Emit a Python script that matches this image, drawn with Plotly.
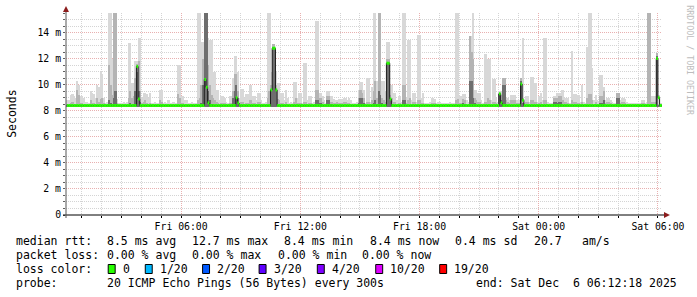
import pandas as pd
import plotly.graph_objects as go

# ---------------- data (values in milliseconds, 5-minute steps) ----------------
start_time = "2025-12-05 00:15:00"
view_start = "2025-12-05 00:12:18"
view_end = "2025-12-06 06:12:18"
smoke_floor = 8.3

median_ms = [
    8.4, 8.4, 8.4, 8.4, 8.4, 8.4, 8.4, 8.4, 8.4,
    8.4, 8.4, 8.4, 8.4, 8.4, 8.4, 8.4, 8.4, 8.4, 8.4, 8.4, 8.4,
    8.4, 8.4, 8.4, 8.4, 8.4, 8.4, 8.4, 8.4, 8.4, 8.4, 8.4, 8.4,
    8.4, 8.4, 8.4, 8.4, 8.4, 8.4, 8.4, 8.4, 8.4, 11.4, 8.9, 8.4,
    8.4, 8.4, 8.4, 8.4, 8.4, 8.4, 8.4, 8.4, 8.4, 8.4, 8.4, 8.4,
    8.4, 8.4, 8.4, 8.4, 8.4, 8.4, 8.4, 8.4, 8.4, 8.4, 8.4, 8.4,
    8.4, 8.4, 8.4, 8.4, 8.4, 8.4, 8.4, 8.4, 8.4, 8.4, 8.4, 8.4,
    8.4, 8.4, 10.4, 9.8, 8.6, 8.4, 8.4, 8.4, 8.4, 8.4, 8.4, 8.4,
    8.4, 8.4, 8.4, 8.4, 8.4, 8.4, 8.4, 8.4, 8.4, 9.0, 8.6, 8.4,
    8.4, 8.4, 8.4, 8.4, 8.4, 8.4, 8.4, 8.4, 8.4, 8.4, 8.4, 8.4,
    8.4, 8.4, 8.4, 8.4, 8.4, 8.4, 9.6, 12.8, 12.8, 9.6, 8.4, 8.4,
    8.4, 8.4, 8.4, 8.4, 8.4, 8.4, 8.4, 8.4, 8.4, 8.4, 8.4, 8.4,
    8.4, 8.4, 8.4, 8.4, 8.4, 8.4, 8.4, 8.4, 8.4, 8.4, 8.4, 8.4,
    8.4, 8.4, 8.4, 8.4, 8.4, 8.4, 8.4, 8.4, 8.4, 8.4, 8.4, 8.4,
    8.4, 8.4, 8.4, 8.4, 8.4, 8.4, 8.4, 8.4, 8.4, 8.4, 8.4, 8.4,
    8.4, 8.4, 8.4, 8.4, 8.4, 8.4, 8.4, 8.4, 8.4, 8.4, 8.4, 8.4,
    8.4, 8.4, 8.4, 8.4, 11.65, 11.65, 8.9, 8.4, 8.4, 8.4, 8.4, 8.4,
    8.4, 8.4, 8.4, 8.4, 8.4, 8.4, 8.4, 8.4, 8.4, 8.4, 8.4, 8.4,
    8.4, 8.4, 8.4, 8.4, 8.4, 8.4, 8.4, 8.4, 8.4, 8.4, 8.4, 8.4,
    8.4, 8.4, 8.4, 8.4, 8.4, 8.4, 8.4, 8.4, 8.4, 8.4, 8.4, 8.4,
    8.4, 8.4, 8.4, 8.4, 8.4, 8.4, 8.4, 8.4, 8.4, 8.4, 8.4, 8.4,
    8.4, 8.4, 8.4, 8.4, 8.4, 8.4, 8.4, 8.4, 8.4, 8.4, 8.4, 8.4,
    9.3, 8.6, 8.4, 8.4, 8.4, 8.4, 8.4, 8.4, 8.4, 8.4, 8.4, 8.4,
    8.4, 10.05, 8.8, 8.4, 8.4, 8.4, 8.4, 8.4, 8.4, 8.4, 8.4, 8.4,
    8.4, 8.4, 8.4, 8.4, 8.4, 8.4, 8.4, 8.4, 8.4, 8.4, 8.4, 8.4,
    8.4, 8.4, 8.4, 8.4, 8.4, 8.4, 8.4, 8.4, 8.4, 8.4, 8.4, 8.4,
    8.4, 8.4, 8.4, 8.4, 8.4, 8.4, 8.4, 8.4, 8.4, 8.4, 8.4, 8.4,
    8.4, 8.4, 8.4, 8.4, 8.4, 8.4, 8.4, 8.4, 8.4, 8.4, 8.4, 8.4,
    8.4, 8.4, 8.4, 8.4, 8.4, 8.4, 8.4, 8.4, 8.4, 8.4, 8.4, 8.4,
    8.4, 8.4, 8.4, 8.4, 8.4, 8.4, 8.4, 8.4, 8.4, 8.4, 8.4, 12.0,
    9.0, 8.4, 8.4,
]

smoke_max_ms = [
    8.8, 8.8, 9.2, 9.3, 9.1, 9.0, 10.3, 10.0, 9.1,
    9.1, 9.0, 8.7, 8.7, 8.6, 9.5, 9.4, 9.3, 9.0, 10.0, 9.8, 11.0,
    10.8, 9.0, 8.6, 8.7, 15.5, 15.5, 12.0, 15.5, 15.5, 8.9, 8.6, 8.6,
    8.6, 8.7, 8.6, 8.7, 13.2, 13.2, 10.1, 10.1, 11.8, 11.8, 13.6, 13.6,
    9.0, 9.35, 9.35, 9.3, 9.0, 9.35, 8.6, 8.6, 8.7, 8.6, 8.6, 9.6,
    9.6, 8.6, 8.7, 8.6, 8.8, 8.6, 8.6, 8.7, 8.6, 8.6, 11.5, 11.5,
    9.1, 9.1, 8.8, 8.8, 8.6, 8.6, 8.7, 8.6, 8.6, 8.6, 15.5, 15.5,
    13.3, 13.3, 15.5, 15.5, 13.6, 13.4, 13.4, 11.0, 11.0, 9.6, 9.6, 8.8,
    9.1, 9.1, 9.0, 8.7, 8.6, 9.1, 9.1, 10.5, 12.2, 12.2, 11.0, 9.0,
    9.7, 9.7, 9.0, 9.3, 9.3, 10.0, 10.0, 9.1, 9.1, 8.8, 9.35, 9.35,
    8.8, 8.6, 8.6, 8.7, 15.5, 15.5, 11.0, 13.1, 13.1, 11.0, 10.1, 10.1,
    9.35, 9.35, 8.8, 9.6, 9.0, 8.6, 8.7, 8.6, 10.2, 10.2, 9.0, 9.35,
    9.35, 8.6, 11.7, 11.7, 8.8, 9.1, 9.1, 8.6, 8.7, 14.85, 14.85, 9.35,
    9.35, 9.1, 8.8, 8.6, 9.5, 9.5, 9.1, 9.1, 8.9, 8.8, 8.8, 8.9,
    8.8, 8.9, 9.0, 9.0, 8.8, 9.0, 8.8, 8.6, 8.6, 8.6, 8.7, 9.6,
    10.2, 10.2, 9.6, 8.6, 10.5, 10.5, 8.7, 9.8, 15.5, 15.5, 10.3, 15.5,
    15.5, 10.3, 10.3, 9.5, 13.3, 13.3, 10.0, 10.0, 9.35, 9.35, 8.8, 9.1,
    9.1, 8.7, 15.5, 15.5, 9.0, 13.4, 13.4, 8.8, 9.35, 9.35, 8.7, 13.8,
    13.8, 9.0, 9.35, 8.6, 8.6, 8.6, 8.7, 9.0, 9.0, 8.9, 8.6, 8.7,
    8.7, 8.6, 8.6, 8.6, 8.6, 8.6, 8.7, 8.6, 8.6, 8.6, 15.5, 15.5,
    9.1, 9.1, 9.3, 9.3, 8.8, 8.7, 13.7, 13.7, 15.5, 9.6, 9.6, 9.35,
    9.35, 8.8, 8.6, 12.35, 12.35, 12.0, 12.0, 8.8, 10.4, 10.4, 9.0, 8.7,
    9.5, 9.5, 10.5, 10.5, 9.0, 9.0, 8.8, 9.2, 9.2, 9.2, 8.8, 8.8,
    8.8, 10.5, 13.6, 8.9, 9.1, 9.1, 8.7, 10.6, 10.6, 10.1, 10.1, 8.7,
    9.1, 9.35, 8.8, 13.6, 13.6, 8.7, 8.6, 8.6, 8.6, 9.1, 9.1, 9.35,
    9.35, 9.35, 9.6, 9.0, 9.0, 9.0, 8.6, 8.6, 12.6, 9.3, 9.3, 9.2,
    9.2, 8.7, 10.0, 8.7, 8.6, 12.9, 15.5, 15.5, 11.3, 8.8, 9.2, 8.8,
    8.7, 10.75, 10.75, 9.8, 8.8, 9.0, 9.0, 8.8, 8.7, 8.6, 8.6, 9.35,
    9.35, 8.8, 9.0, 9.0, 8.9, 8.7, 8.6, 8.6, 8.6, 8.6, 8.6, 8.6,
    8.6, 8.6, 8.8, 8.8, 8.6, 8.7, 15.5, 15.5, 9.1, 9.1, 9.1, 12.4,
    9.2, 8.6, 8.6,
]

smoke_mid_ms = [
    8.5, 8.5, 8.6, 8.7, 8.5, 8.5, 9.6, 9.2, 8.6,
    8.6, 8.5, 8.5, 8.5, 8.5, 8.8, 8.6, 8.6, 8.5, 9.0, 8.7, 8.9,
    9.0, 8.6, 8.5, 8.5, 11.5, 10.0, 9.2, 15.5, 15.5, 8.6, 8.5, 8.5,
    8.5, 8.5, 8.5, 8.5, 9.0, 9.5, 9.0, 9.1, 10.5, 11.6, 11.8, 9.5,
    8.6, 8.7, 8.8, 8.6, 8.5, 8.6, 8.5, 8.5, 8.5, 8.5, 8.5, 8.8,
    8.7, 8.5, 8.5, 8.5, 8.5, 8.5, 8.5, 8.5, 8.5, 8.5, 9.3, 9.0,
    8.6, 8.6, 8.5, 8.5, 8.5, 8.5, 8.5, 8.5, 8.5, 8.5, 8.8, 9.0,
    10.0, 12.0, 15.5, 15.5, 11.5, 10.0, 9.2, 9.0, 8.8, 8.7, 8.6, 8.5,
    8.6, 8.6, 8.6, 8.5, 8.5, 8.6, 8.6, 9.5, 10.8, 10.8, 9.5, 8.6,
    8.7, 8.7, 8.5, 8.6, 8.6, 8.8, 8.8, 8.6, 8.6, 8.5, 8.7, 8.7,
    8.5, 8.5, 8.5, 8.5, 9.0, 9.5, 10.0, 13.1, 13.1, 10.0, 8.9, 8.8,
    8.6, 8.6, 8.5, 8.7, 8.5, 8.5, 8.5, 8.5, 8.7, 9.0, 8.6, 8.6,
    8.6, 8.5, 8.7, 8.7, 8.5, 8.6, 8.6, 8.5, 8.5, 9.6, 9.6, 9.0,
    9.0, 8.7, 8.5, 8.5, 9.1, 9.1, 8.7, 8.7, 8.6, 8.6, 8.7, 8.6,
    8.6, 8.6, 8.7, 8.7, 8.6, 8.6, 8.5, 8.5, 8.5, 8.5, 8.5, 9.0,
    9.6, 9.35, 9.0, 8.5, 8.7, 8.7, 8.5, 8.8, 9.5, 10.3, 9.0, 15.5,
    15.5, 9.0, 8.8, 8.7, 12.0, 12.0, 9.2, 9.0, 8.7, 8.7, 8.5, 8.6,
    8.6, 8.5, 10.0, 10.0, 8.6, 8.8, 9.0, 8.5, 8.7, 8.7, 8.5, 8.8,
    8.8, 8.6, 8.6, 8.5, 8.5, 8.5, 8.5, 8.6, 8.6, 8.6, 8.5, 8.5,
    8.5, 8.5, 8.5, 8.5, 8.5, 8.5, 8.5, 8.5, 8.5, 8.5, 8.8, 8.9,
    8.6, 8.6, 8.9, 8.8, 8.5, 8.5, 13.7, 12.5, 12.0, 9.0, 8.8, 8.7,
    8.7, 8.5, 8.5, 8.7, 8.7, 9.0, 8.8, 8.5, 8.7, 8.7, 8.6, 8.5,
    9.4, 9.2, 10.5, 10.5, 8.8, 8.7, 8.6, 8.8, 8.8, 8.8, 8.6, 8.6,
    8.6, 10.5, 9.0, 8.6, 8.7, 8.7, 8.5, 8.8, 8.8, 8.7, 8.7, 8.5,
    8.6, 8.7, 8.5, 8.8, 8.8, 8.5, 8.5, 8.5, 8.5, 9.0, 9.0, 9.0,
    9.1, 9.1, 8.8, 8.7, 8.7, 8.6, 8.5, 8.5, 8.8, 8.7, 8.7, 8.6,
    8.6, 8.5, 8.7, 8.5, 8.5, 9.0, 9.3, 9.3, 8.8, 8.5, 8.7, 8.5,
    8.5, 9.1, 9.1, 9.5, 8.6, 8.7, 8.7, 8.6, 8.5, 8.5, 8.5, 9.35,
    9.35, 8.6, 8.7, 8.7, 8.6, 8.5, 8.5, 8.5, 8.5, 8.5, 8.5, 8.5,
    8.5, 8.5, 8.6, 8.6, 8.5, 8.5, 15.5, 15.5, 8.7, 8.7, 8.7, 12.4,
    8.5, 8.5, 8.5,
]

smoke_core_ms = [
    8.4, 8.4, 8.4, 8.4, 8.4, 8.4, 8.4, 8.4, 8.4,
    8.4, 8.4, 8.4, 8.4, 8.4, 8.4, 8.4, 8.4, 8.4, 8.4, 8.4, 8.4,
    8.4, 8.4, 8.4, 8.4, 8.8, 8.6, 8.4, 9.0, 9.5, 8.4, 8.4, 8.4,
    8.4, 8.4, 8.4, 8.4, 8.4, 8.6, 8.4, 8.5, 9.5, 11.0, 9.5, 8.7,
    8.4, 8.4, 8.4, 8.4, 8.4, 8.4, 8.4, 8.4, 8.4, 8.4, 8.4, 8.4,
    8.4, 8.4, 8.4, 8.4, 8.4, 8.4, 8.4, 8.4, 8.4, 8.4, 8.4, 8.4,
    8.4, 8.4, 8.4, 8.4, 8.4, 8.4, 8.4, 8.4, 8.4, 8.4, 8.4, 8.4,
    8.6, 10.0, 15.5, 15.5, 9.5, 8.8, 8.5, 8.4, 8.4, 8.4, 8.4, 8.4,
    8.4, 8.4, 8.4, 8.4, 8.4, 8.4, 8.4, 9.0, 9.5, 10.0, 9.0, 8.4,
    8.4, 8.4, 8.4, 8.4, 8.4, 8.4, 8.4, 8.4, 8.4, 8.4, 8.4, 8.4,
    8.4, 8.4, 8.4, 8.4, 8.4, 8.4, 9.6, 12.9, 12.9, 9.6, 8.4, 8.4,
    8.4, 8.4, 8.4, 8.4, 8.4, 8.4, 8.4, 8.4, 8.4, 8.4, 8.4, 8.4,
    8.4, 8.4, 8.4, 8.4, 8.4, 8.4, 8.4, 8.4, 8.4, 8.8, 8.8, 8.6,
    8.6, 8.4, 8.4, 8.4, 8.8, 8.8, 8.5, 8.4, 8.4, 8.4, 8.4, 8.4,
    8.4, 8.4, 8.4, 8.4, 8.4, 8.4, 8.4, 8.4, 8.4, 8.4, 8.4, 8.6,
    9.0, 9.0, 8.6, 8.4, 8.4, 8.4, 8.4, 8.4, 8.6, 8.8, 8.5, 9.5,
    9.2, 8.6, 8.4, 8.4, 11.7, 11.7, 8.8, 8.5, 8.4, 8.4, 8.4, 8.4,
    8.4, 8.4, 8.8, 8.8, 8.4, 8.4, 8.4, 8.4, 8.4, 8.4, 8.4, 8.4,
    8.4, 8.4, 8.4, 8.4, 8.4, 8.4, 8.4, 8.4, 8.4, 8.4, 8.4, 8.4,
    8.4, 8.4, 8.4, 8.4, 8.4, 8.4, 8.4, 8.4, 8.4, 8.4, 8.4, 8.4,
    8.4, 8.4, 8.6, 8.5, 8.4, 8.4, 10.3, 10.3, 9.0, 8.6, 8.4, 8.4,
    8.4, 8.4, 8.4, 8.4, 8.4, 8.4, 8.4, 8.4, 8.4, 8.4, 8.4, 8.4,
    9.3, 8.8, 10.0, 10.0, 8.5, 8.4, 8.4, 8.4, 8.4, 8.4, 8.4, 8.4,
    8.4, 10.3, 8.6, 8.4, 8.4, 8.4, 8.4, 8.4, 8.4, 8.4, 8.4, 8.4,
    8.4, 8.4, 8.4, 8.4, 8.4, 8.4, 8.4, 8.4, 8.4, 8.7, 8.7, 8.6,
    8.7, 8.7, 8.4, 8.4, 8.4, 8.4, 8.4, 8.4, 8.4, 8.4, 8.4, 8.4,
    8.4, 8.4, 8.4, 8.4, 8.4, 8.4, 8.4, 8.4, 8.4, 8.4, 8.4, 8.4,
    8.4, 8.6, 8.6, 8.8, 8.4, 8.4, 8.4, 8.4, 8.4, 8.4, 8.4, 9.0,
    9.0, 8.4, 8.4, 8.4, 8.4, 8.4, 8.4, 8.4, 8.4, 8.4, 8.4, 8.4,
    8.4, 8.4, 8.4, 8.4, 8.4, 8.4, 8.4, 8.4, 8.5, 8.4, 8.4, 12.2,
    8.4, 8.4, 8.4,
]

y_tick_values = [0, 2, 4, 6, 8, 10, 12, 14]
y_tick_labels = ["0", "2 m", "4 m", "6 m", "8 m", "10 m", "12 m", "14 m"]

loss_labels = ["0", "1/20", "2/20", "3/20", "4/20", "10/20", "19/20"]
loss_colors = ["#26ff00", "#00b8ff", "#0059ff", "#5e00ff", "#7e00ff", "#dd00ff", "#ff0000"]

stats_rtt = ["median rtt:", "8.5 ms avg", "12.7 ms max", "8.4 ms min", "8.4 ms now", "0.4 ms sd", "20.7", "am/s"]
stats_loss = ["packet loss:", "0.00 % avg", "0.00 % max", "0.00 % min", "0.00 % now"]
probe_text = ["probe:", "20 ICMP Echo Pings (56 Bytes) every 300s", "end: Sat Dec\u00a0\u00a06 06:12:18 2025"]

# ---------------- layout helpers (pixel -> paper) ----------------
W, H = 697, 297
L, R, T, B = 66, 31, 13, 82
PW, PH = W - L - R, H - T - B


def px(x):
    return (x - L) / PW


def py(y):
    return (H - B - y) / PH


MONO = "DejaVu Sans Mono"
step = pd.Timedelta(minutes=5)
starts = pd.date_range(start_time, periods=len(median_ms), freq="5min")
centers = starts + step / 2
bar_w = step.total_seconds() * 1000

fig = go.Figure()


def smoke(tops, color):
    fig.add_trace(go.Bar(
        x=centers, y=[t - smoke_floor for t in tops], base=smoke_floor,
        width=bar_w, marker=dict(color=color, line=dict(width=0)),
        hoverinfo="skip", showlegend=False))


smoke(smoke_max_ms, "#d8d8d8")
smoke(smoke_mid_ms, "#b4b4b4")
smoke(smoke_core_ms, "#6e6e6e")

# median black connecting line
fig.add_trace(go.Scatter(
    x=list(starts) + [starts[-1] + step], y=median_ms + [median_ms[-1]],
    mode="lines", line=dict(color="#202020", width=1, shape="hv"),
    hoverinfo="skip", showlegend=False))

# loss-coloured median band (all zero loss)
gx, gy = [], []
for s, m in zip(starts, median_ms):
    gx += [s, s + step, None]
    gy += [m, m, None]
fig.add_trace(go.Scatter(
    x=gx, y=gy, mode="lines", line=dict(color=loss_colors[0], width=3),
    hoverinfo="skip", showlegend=False))

grid_minor = "#d4d4d4"
grid_major = "#e8b0b0"

fig.update_xaxes(
    type="date", range=[view_start, view_end],
    tick0="2025-12-05 00:00:00", dtick=6 * 3600 * 1000, tickformat="%a %H:%M",
    showgrid=True, gridcolor=grid_major, griddash="1px,1px", gridwidth=1,
    ticks="outside", ticklen=2, tickcolor="#000000", tickwidth=1,
    tickfont=dict(family=MONO, size=9.8, color="#000000"),
    showline=False, zeroline=False, fixedrange=True,
    minor=dict(dtick=3600 * 1000, tick0="2025-12-05 00:00:00", showgrid=True,
               gridcolor=grid_minor, griddash="1px,1px", gridwidth=1,
               ticks="outside", ticklen=2, tickcolor="#000000"),
)
fig.update_yaxes(
    range=[0, 15.5], tickmode="array", tickvals=y_tick_values, ticktext=y_tick_labels,
    showgrid=True, gridcolor=grid_major, griddash="1px,1px", gridwidth=1,
    ticks="outside", ticklen=2, tickcolor="#606060",
    tickfont=dict(family=MONO, size=9.8, color="#000000"),
    showline=False, zeroline=False, fixedrange=True,
    minor=dict(tickmode="linear", tick0=0, dtick=0.5, showgrid=True,
               gridcolor=grid_minor, griddash="1px,1px", gridwidth=1,
               ticks="outside", ticklen=2, tickcolor="#606060"),
)

shapes = []
# axes lines
shapes.append(dict(type="line", xref="paper", yref="paper", x0=px(63), x1=px(669), y0=0, y1=0,
                   line=dict(color="#000000", width=1), layer="above"))
shapes.append(dict(type="line", xref="paper", yref="paper", x0=0, x1=0, y0=py(218), y1=py(11),
                   line=dict(color="#555555", width=1), layer="above"))
# arrows
shapes.append(dict(type="path", xref="paper", yref="paper",
                   path=f"M {px(66)},{py(6)} L {px(63)},{py(12)} L {px(69)},{py(12)} Z",
                   fillcolor="#8b1c1c", line=dict(width=0), layer="above"))
shapes.append(dict(type="path", xref="paper", yref="paper",
                   path=f"M {px(674)},{py(215)} L {px(668)},{py(212)} L {px(668)},{py(218)} Z",
                   fillcolor="#8b1c1c", line=dict(width=0), layer="above"))

annotations = []


def text(x, y, s, size=11.5, color="#000000", anchor="left", angle=0):
    annotations.append(dict(
        x=px(x), y=py(y), xref="paper", yref="paper", text=s, showarrow=False,
        xanchor=anchor, yanchor="middle", textangle=angle, borderpad=0, borderwidth=0,
        font=dict(family=MONO, size=size, color=color)))


rtt_x = [16, 107.5, 193, 285.8, 371.6, 458, 537, 585.8]
for x, s in zip(rtt_x, stats_rtt):
    text(x, 241.3, s.replace(" ", "\u00a0"))
loss_x = [16, 107.5, 193.3, 279, 364.4]
for x, s in zip(loss_x, stats_loss):
    text(x, 254.7, s.replace(" ", "\u00a0"))
text(16, 269, "loss\u00a0color:")
box_x = [108.5, 145.8, 203.5, 260.4, 319, 377.8, 442.2]
for bx, lab, col in zip(box_x, loss_labels, loss_colors):
    shapes.append(dict(type="rect", xref="paper", yref="paper",
                       x0=px(bx), x1=px(bx + 7), y0=py(273.5), y1=py(264.5),
                       fillcolor=col, line=dict(color="#000000", width=1), layer="above"))
    text(bx + 14.8, 269, lab)
probe_x = [16, 107.5, 478.7]
for x, s in zip(probe_x, probe_text):
    text(x, 283, s.replace(" ", "\u00a0"))

# y-axis title and watermark
text(11, 113.5, "Seconds", size=11.5, anchor="center", angle=-90)
text(694, 60, "RRDTOOL\u00a0/\u00a0TOBI\u00a0OETIKER", size=8.3, color="#bdbdbd",
     anchor="center", angle=90)

fig.update_layout(
    width=W, height=H, margin=dict(l=L, r=R, t=T, b=B, pad=0),
    paper_bgcolor="#ffffff", plot_bgcolor="#ffffff",
    barmode="overlay", bargap=0, showlegend=False,
    shapes=shapes, annotations=annotations,
    font=dict(family=MONO, size=11.5, color="#000000"),
)

fig.write_html("out.html")
